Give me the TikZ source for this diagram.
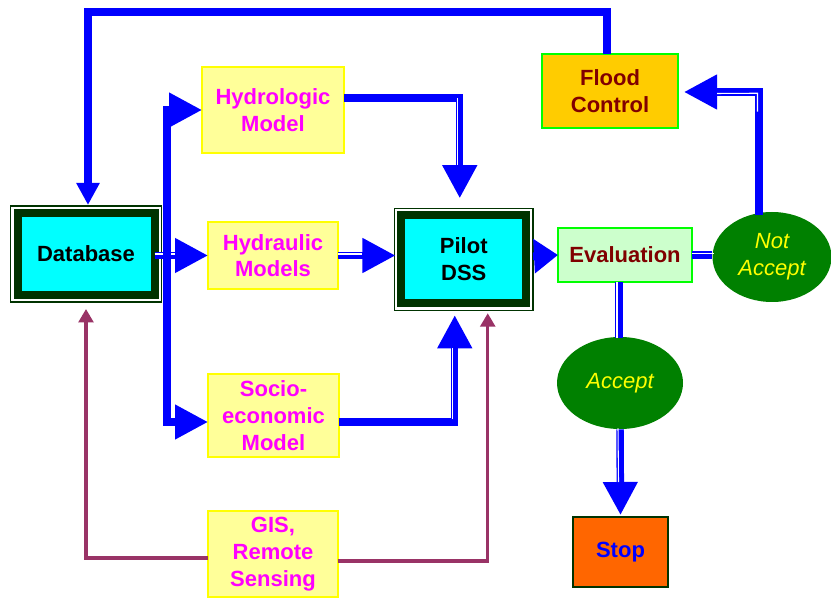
\documentclass[tikz,border=0pt]{standalone}
\usepackage{fontspec}
\setmainfont{Liberation Sans}
\usetikzlibrary{arrows.meta,calc,shapes.geometric}
\definecolor{dkg}{HTML}{003300}
\definecolor{cyn}{HTML}{00FFFF}
\definecolor{ylwfill}{HTML}{FFFF99}
\definecolor{ylwline}{HTML}{FFFF00}
\definecolor{mgt}{HTML}{FF00FF}
\definecolor{flood}{HTML}{FFCC00}
\definecolor{lgreen}{HTML}{00FF00}
\definecolor{evalfill}{HTML}{CCFFCC}
\definecolor{dred}{HTML}{800000}
\definecolor{ellg}{HTML}{008000}
\definecolor{stopfill}{HTML}{FF6600}
\definecolor{prp}{HTML}{993366}
\definecolor{blu}{HTML}{0000FF}
\begin{document}
\begin{tikzpicture}[x=0.75pt,y=-0.75pt,
  txt/.style={font=\fontsize{16.5}{20}\selectfont\bfseries, align=center, inner sep=0pt, outer sep=0pt},
  cbox/.style={txt, fill=cyn, draw=dkg, line width=6pt, text=black},
  ybox/.style={txt, fill=ylwfill, draw=ylwline, line width=1.5pt, text=mgt},
  gbox/.style={txt, draw=lgreen, line width=1.5pt, text=dred},
  ell/.style={ellipse, fill=ellg, draw=none, inner sep=0pt, text=ylwline,
    font=\fontsize{16.5}{20}\selectfont\itshape, align=center},
  frame/.style={draw=dkg, line width=0.9pt},
  bl/.style={draw=blu, line width=5.6pt},
  wl/.style={draw=white, line width=0.8pt},
  pl/.style={draw=prp, line width=2.4pt},
  bigtip/.style={-{Triangle[length=24.75pt,width=24.75pt]}},
  smalltip/.style={-{Triangle[length=10pt,width=11pt]}}
]
\useasboundingbox (0,0) rectangle (831,598);

% nodes
\node[cbox, minimum width=102.75pt, minimum height=61.5pt] (db) at (86,254) {Database};
\node[cbox, minimum width=93.4pt, minimum height=66pt] (pilot) at (463.75,259.25) {Pilot\\DSS};
\draw[frame] ($(db.north west)+(-7,-7)$) rectangle ($(db.south east)+(7,7)$);
\draw[frame] ($(pilot.north west)+(-7,-7)$) rectangle ($(pilot.south east)+(7,7)$);

\node[ybox, minimum width=106.5pt, minimum height=64.5pt] (hyd) at (273,110) {Hydrologic\\Model};
\node[ybox, minimum width=97.5pt, minimum height=50.25pt] (hyl) at (273,255.5) {Hydraulic\\Models};
\node[ybox, minimum width=98.25pt, minimum height=62.25pt] (soc) at (273.5,415.5) {Socio-\\economic\\Model};
\node[ybox, minimum width=97.5pt, minimum height=64.5pt] (gis) at (273,554) {GIS,\\Remote\\Sensing};

\node[gbox, fill=flood, minimum width=102pt, minimum height=55.5pt] (fc) at (610,91) {Flood\\Control};
\node[gbox, fill=evalfill, minimum width=100.5pt, minimum height=40.5pt] (ev) at (625,255) {Evaluation};
\node[ell, minimum width=89.25pt, minimum height=67.5pt] (na) at (772,257) {Not\\Accept};
\node[ell, minimum width=94.5pt, minimum height=69pt] (acc) at (620,383) {Accept};
\node[txt, fill=stopfill, draw=dkg, line width=1.2pt, text=blu, minimum width=71.25pt, minimum height=52.5pt] (stop) at (620.5,552) {Stop};

% Database -> Hydraulic
\draw[bl,bigtip] (db.east |- hyl.west) -- (hyl.west);
\draw[wl] ($(db.east |- hyl.west)+(0,-1.5)$) -- ($(hyl.west)+(-33,-1.5)$);
% trunk to Hydrologic and Socio-economic
\draw[bl,{Triangle[length=24.75pt,width=24.75pt]}-{Triangle[length=24.75pt,width=24.75pt]}]
  ($(soc.west)+(0,6.5)$) -| ($(hyd.west)+(-35,0)$) -- (hyd.west);

% Hydrologic -> Pilot
\draw[bl,bigtip] ($(hyd.east)+(0,-12)$) -| ($(pilot.north)+(-4,-17)$);
\draw[wl] ($(pilot.north)+(-6,-117)$) -- ($(pilot.north)+(-6,-50)$);
% Hydraulic -> Pilot
\draw[bl,bigtip] (hyl.east) -- ($(pilot.west |- hyl.east)+(-6,0)$);
\draw[wl] ($(hyl.east)+(0,-1.5)$) -- ($(pilot.west |- hyl.east)+(-39,-1.5)$);
% Socio -> Pilot
\draw[bl,bigtip] ($(soc.east)+(0,6.5)$) -| ($(pilot.south)+(-9,12)$);
\draw[wl] ($(pilot.south)+(-11,116)$) -- ($(pilot.south)+(-11,45)$);

% GIS -> Database, GIS -> Pilot
\draw[pl,smalltip] ($(gis.west)+(0,4)$) -| ($(db.south)+(0,14)$);
\draw[pl,smalltip] ($(gis.east)+(0,7)$) -| ($(pilot.south)+(24,10)$);

% Pilot -> Evaluation
\draw[bl,-{Triangle[length=18pt,width=24.75pt]}] ($(pilot.east)+(7,-3)$) -- (ev.west);
% Evaluation -> Not Accept
\draw[bl] (ev.east) -- (ev.east -| na.west);
\draw[wl] ($(ev.east)+(0,-1.5)$) -- ($(ev.east -| na.west)+(2,-1.5)$);
% Not Accept -> Flood Control
\draw[bl,bigtip] ($(na.north)+(-13,3)$) |- ($(fc.east)+(6,1)$);
\draw[wl] ($(fc.east)+(39,2.5)$) -- ($(na.north)+(-14.5,-118.5)$) -- ($(na.north)+(-14.5,-100)$);
% Flood Control -> Database
\draw[bl,-{Triangle[length=16.5pt,width=16.5pt]}] ($(fc.north)+(-3,0)$) -- ($(fc.north)+(-3,-42)$) -| ($(db.north)+(2,-8)$);

% Evaluation -> Accept -> Stop
\draw[bl] ($(ev.south)+(-6,0)$) -- ($(acc.north)+(-1,1)$);
\draw[wl] ($(ev.south)+(-8,0)$) -- ($(acc.north)+(-3,1)$);
\draw[bl,bigtip] (acc.south) -- ($(stop.north)+(0,-2)$);
\draw[wl] ($(acc.south)+(-2,-1)$) -- ($(stop.north)+(-2,-35)$);
\end{tikzpicture}
\end{document}
